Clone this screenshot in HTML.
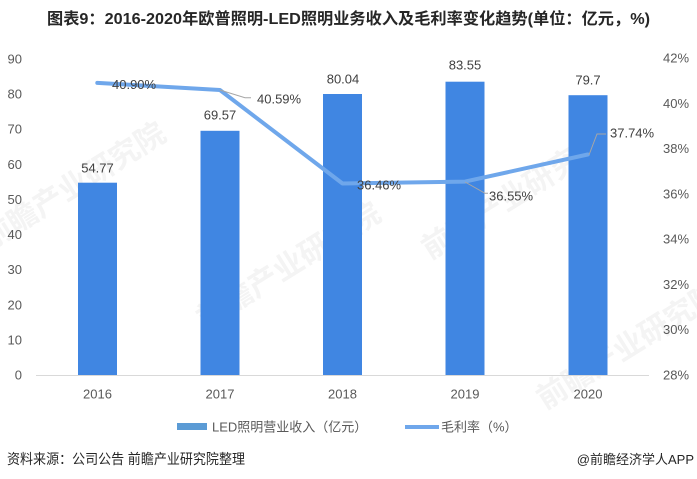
<!DOCTYPE html>
<html><head><meta charset="utf-8"><style>
html,body{margin:0;padding:0;background:#fff;}
svg{display:block;}
text{font-family:"Liberation Sans","Noto Sans CJK SC",sans-serif;}
</style></head><body>
<svg width="697" height="479" viewBox="0 0 697 479" xmlns="http://www.w3.org/2000/svg">
<rect width="697" height="479" fill="#fff"/>
<!-- title -->
<text x="47" y="24" font-size="16" font-weight="bold" fill="#262626" textLength="603" lengthAdjust="spacingAndGlyphs">图表9：2016-2020年欧普照明-LED照明业务收入及毛利率变化趋势(单位：亿元，%)</text>

<!-- watermarks -->
<g fill="#f4f4f4" font-size="30" font-weight="bold">
<text transform="translate(-10,250) rotate(-32)">前瞻产业研究院</text>
<text transform="translate(205,330) rotate(-32)">前瞻产业研究院</text>
<text transform="translate(430,260) rotate(-32)">前瞻产业研究院</text>
<text transform="translate(545,410) rotate(-32)">前瞻产业研究院</text>
</g>

<!-- left axis labels -->
<g font-size="13" fill="#595959" text-anchor="end">
<text x="22" y="63.5">90</text>
<text x="22" y="98.6">80</text>
<text x="22" y="133.7">70</text>
<text x="22" y="168.8">60</text>
<text x="22" y="203.9">50</text>
<text x="22" y="239">40</text>
<text x="22" y="274.2">30</text>
<text x="22" y="309.3">20</text>
<text x="22" y="344.4">10</text>
<text x="22" y="379.5">0</text>
</g>
<!-- right axis labels -->
<g font-size="13" fill="#595959">
<text x="663" y="62.5">42%</text>
<text x="663" y="107.8">40%</text>
<text x="663" y="153.1">38%</text>
<text x="663" y="198.4">36%</text>
<text x="663" y="243.6">34%</text>
<text x="663" y="288.9">32%</text>
<text x="663" y="334.2">30%</text>
<text x="663" y="379.5">28%</text>
</g>

<!-- bars -->
<g fill="#4086e2">
<rect x="78" y="182.7" width="39" height="192.3"/>
<rect x="200.5" y="130.8" width="39" height="244.2"/>
<rect x="323" y="94" width="39" height="281"/>
<rect x="445.5" y="81.7" width="39" height="293.3"/>
<rect x="568.5" y="95.2" width="39" height="279.8"/>
</g>
<!-- baseline -->
<line x1="36" y1="375.5" x2="649" y2="375.5" stroke="#d9d9d9" stroke-width="1"/>

<!-- bar labels -->
<g font-size="13" fill="#404040" text-anchor="middle">
<text x="97.5" y="172.5">54.77</text>
<text x="220" y="119.5">69.57</text>
<text x="343" y="83.5">80.04</text>
<text x="465" y="69.5">83.55</text>
<text x="588" y="84.5">79.7</text>
</g>

<!-- line -->
<polyline points="97.3,82.9 219.9,90 342.5,183.5 465.1,181.6 587.7,154.5" fill="none" stroke="#6fa7eb" stroke-width="4" stroke-linejoin="round" stroke-linecap="round"/>

<!-- leader lines -->
<g fill="none" stroke="#a6a6a6" stroke-width="1">
<polyline points="219.9,90 245,97.7 251,97.7"/>
<polyline points="465.1,182 485,193.3 488,193.3"/>
<polyline points="589,155 597,134 606,134"/>
</g>

<!-- line labels -->
<g font-size="13" fill="#404040">
<text x="112" y="89">40.90%</text>
<text x="257" y="103.5">40.59%</text>
<text x="357" y="189.5">36.46%</text>
<text x="489" y="200.5">36.55%</text>
<text x="610" y="137.5">37.74%</text>
</g>

<!-- x labels -->
<g font-size="13" fill="#595959" text-anchor="middle">
<text x="97.5" y="398.5">2016</text>
<text x="220" y="398.5">2017</text>
<text x="342.5" y="398.5">2018</text>
<text x="465" y="398.5">2019</text>
<text x="588" y="398.5">2020</text>
</g>

<!-- legend -->
<rect x="177" y="423" width="30" height="7" fill="#5b9bd5"/>
<text x="212" y="431.5" font-size="13" fill="#595959">LED照明营业收入（亿元）</text>
<line x1="405" y1="427" x2="439" y2="427" stroke="#6fa7eb" stroke-width="4"/>
<text x="441" y="431.5" font-size="13" fill="#595959">毛利率（%）</text>

<!-- footer -->
<text x="7" y="464" font-size="14" fill="#262626" textLength="238" lengthAdjust="spacingAndGlyphs">资料来源：公司公告 前瞻产业研究院整理</text>
<text x="694" y="464" font-size="13" fill="#262626" text-anchor="end">@前瞻经济学人APP</text>
</svg>
</body></html>
